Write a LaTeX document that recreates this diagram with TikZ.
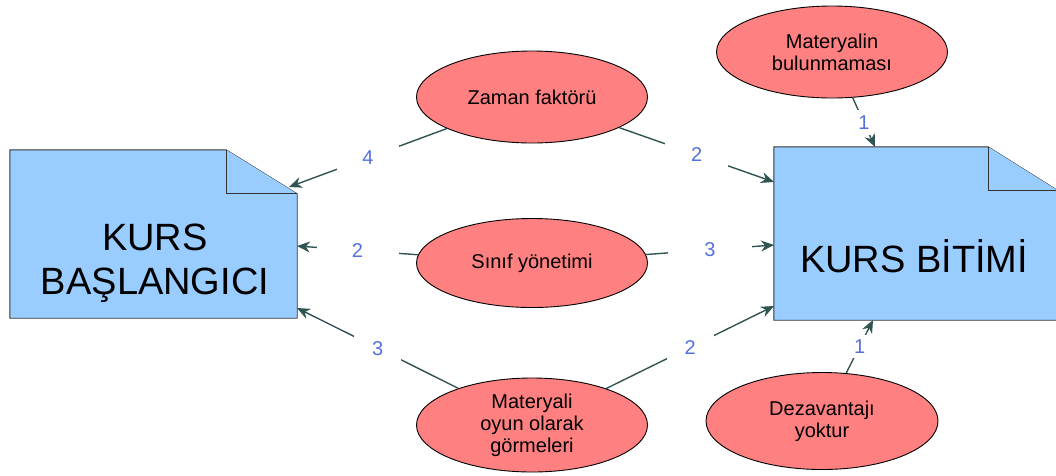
\documentclass[tikz,border=0pt]{standalone}
\usepackage{fontspec}
\setmainfont{Liberation Sans}
\usepackage{xcolor}
\usepackage{tikz}
\usetikzlibrary{shapes.geometric, arrows.meta, positioning}
\definecolor{docblue}{HTML}{99CCFF}
\definecolor{causered}{HTML}{FF8080}
\definecolor{linkgray}{HTML}{2F5452}
\definecolor{numblue}{HTML}{5470E0}
\tikzstyle{arrow} = [line width=1.4pt, draw=linkgray, -{Stealth[length=13pt,width=11pt]}]
\tikzstyle{doc} = [rectangle, inner sep=0pt]
\tikzstyle{docline} = [draw=black!80, line width=0.9pt, fill=docblue]
\tikzstyle{cause} = [ellipse, draw=black, line width=0.9pt, fill=causered, minimum width=231pt, minimum height=92pt, inner sep=0pt, font=\fontsize{20}{22}\selectfont]
\tikzstyle{bigtext} = [font=\fontsize{38}{44}\selectfont]
\tikzset{weight/.style 2 args={fill=white, text=numblue, inner sep=0pt, minimum width=#1, minimum height=#2, font=\fontsize{20}{20}\selectfont}}
\tikzset{every node/.style={align=center}}

\begin{document}
\begin{tikzpicture}[x=1pt, y=-1pt]
    \useasboundingbox (0,0) rectangle (1056,475);

    \node (start) [doc, minimum width=287pt, minimum height=168pt] at (153.5,234) {};
    \draw [docline] (start.north west) -- ([xshift=-71pt]start.north east) -- ([yshift=-44pt]start.north east) -- (start.south east) -- (start.south west) -- cycle;
    \draw [docline] ([xshift=-71pt]start.north east) |- ([yshift=-44pt]start.north east);
    \node (starttext) [bigtext] at (155,263) {KURS\\BAŞLANGICI};

    \node (finish) [doc, minimum width=284pt, minimum height=173pt] at (916,233.5) {};
    \draw [docline] (finish.north west) -- ([xshift=-70pt]finish.north east) -- ([yshift=-44pt]finish.north east) -- (finish.south east) -- (finish.south west) -- cycle;
    \draw [docline] ([xshift=-70pt]finish.north east) |- ([yshift=-44pt]finish.north east);
    \node (finishtext) [bigtext] at (914,256) {KURS BİTİMİ};

    \node (time) [cause] at (532,97) {Zaman faktörü};
    \node (classroom) [cause, minimum height=89pt] at (532,263) {Sınıf yönetimi};
    \node (game) [cause, minimum height=94pt] at (532,425) {Materyali\\oyun olarak\\görmeleri};
    \node (supply) [cause] at (832,52) {Materyalin\\bulunmaması};
    \node (nodown) [cause, minimum width=232pt, minimum height=97pt] at (822,421) {Dezavantajı\\yoktur};

    \coordinate (startfold) at (289,187);
    \coordinate (startmid) at (297,246);
    \coordinate (startlow) at (297,308);
    \coordinate (finishhigh) at (774,182);
    \coordinate (finishmid) at (774,245);
    \coordinate (finishlow) at (774,306);
    \coordinate (finishtop) at (875,147);
    \coordinate (finishbottom) at (873,320);

    \draw [arrow] (time) -- node[weight={62pt}{30pt}]{4} (startfold);
    \draw [arrow] (time) -- node[weight={63pt}{30pt}]{2} (finishhigh);
    \draw [arrow] (classroom) -- node[weight={82pt}{20pt}]{2} (startmid);
    \draw [arrow] (classroom) -- node[weight={84pt}{20pt}]{3} (finishmid);
    \draw [arrow] (game) -- node[weight={47pt}{30pt}]{3} (startlow);
    \draw [arrow] (game) -- node[weight={47pt}{30pt}]{2} (finishlow);
    \draw [arrow] (supply) -- node[weight={14pt}{25pt}]{1} (finishtop);
    \draw [arrow] (nodown) -- node[weight={14pt}{23pt}]{1} (finishbottom);
\end{tikzpicture}
\end{document}
